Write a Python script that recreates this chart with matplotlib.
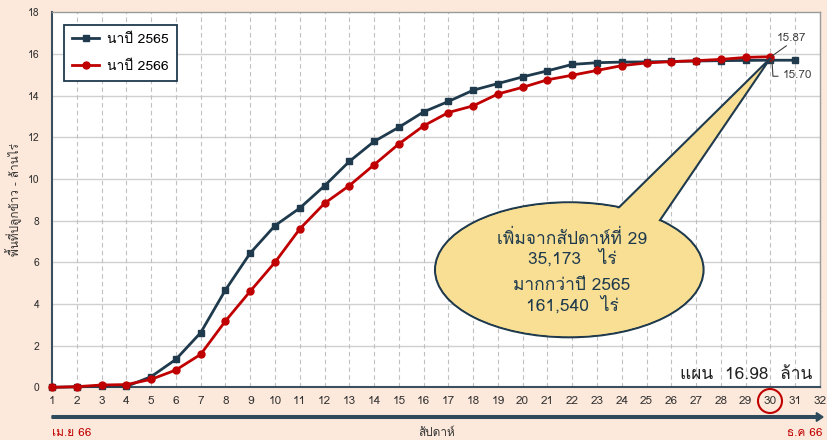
import matplotlib
matplotlib.use('Agg')
import matplotlib.pyplot as plt
from matplotlib import font_manager as fm
from matplotlib.ft2font import FT2Font
from matplotlib.patches import Ellipse, Polygon, Circle, FancyArrow

plt.rcParams['font.family'] = ['Loma', 'DejaVu Sans']

# weekly cumulative planted area (million rai)
weeks_65 = list(range(1, 32))
area_65 = [0.0, 0.02, 0.06, 0.04, 0.51, 1.34, 2.62, 4.67, 6.44, 7.76, 8.60,
           9.67, 10.84, 11.80, 12.48, 13.22, 13.72, 14.26, 14.58, 14.90, 15.19,
           15.50, 15.58, 15.61, 15.62, 15.64, 15.66, 15.68, 15.69, 15.70, 15.70]
weeks_66 = list(range(1, 31))
area_66 = [0.0, 0.03, 0.11, 0.13, 0.38, 0.83, 1.58, 3.18, 4.61, 6.00, 7.60,
           8.83, 9.68, 10.68, 11.68, 12.55, 13.19, 13.51, 14.08, 14.40, 14.76,
           14.98, 15.21, 15.44, 15.57, 15.63, 15.68, 15.74, 15.835, 15.87]

label_65 = 'นาปี 2565'
label_66 = 'นาปี 2566'
callout_lines = ['เพิ่มจากสัปดาห์ที่ 29', '35,173   ไร่', 'มากกว่าปี 2565', '161,540  ไร่']

navy = '#1F3A4D'
red = '#C00000'

# matplotlib does no Thai shaping: a tone mark with no upper vowel sits too high,
# so swap in the font's low-position glyphs when it has them
upper_vowels = set('\u0e31\u0e34\u0e35\u0e36\u0e37\u0e47')
low_marks = {'\u0e48': '\uf70a', '\u0e49': '\uf70b', '\u0e4a': '\uf70c', '\u0e4b': '\uf70d', '\u0e4c': '\uf70e'}
try:
    cmap = FT2Font(fm.findfont('Loma', fallback_to_default=False)).get_charmap()
except Exception:
    cmap = {}
has_pua = all(ord(v) in cmap for v in low_marks.values())


def th(s):
    if not has_pua:
        return s
    out = []
    for i, c in enumerate(s):
        if c in low_marks and (i == 0 or s[i - 1] not in upper_vowels):
            out.append(low_marks[c])
        else:
            out.append(c)
    return ''.join(out)


fig = plt.figure(figsize=(8.28, 4.4), dpi=100, facecolor='#FCE9DB')
ax = fig.add_axes([52 / 828, 52.7 / 440, 768 / 828, 375 / 440])
ax.set_facecolor('white')
ax.set_xlim(1, 32)
ax.set_ylim(0, 18)
ax.set_xticks(range(1, 33))
ax.set_yticks(range(0, 19, 2))
ax.tick_params(length=0, colors='#333333')
ax.tick_params(axis='x', labelsize=8.5, pad=6)
ax.tick_params(axis='y', labelsize=7.5, pad=9)

for y in range(2, 18, 2):
    ax.axhline(y, color='#D0D0D0', lw=1, zorder=0)
for x in range(2, 32):
    ax.axvline(x, color='#C0C0C0', lw=0.8, ls=(0, (4, 3)), zorder=0)

for s in ['top', 'right']:
    ax.spines[s].set_color('#9A9A9A')
    ax.spines[s].set_linewidth(1)
for s in ['left', 'bottom']:
    ax.spines[s].set_color('#3A4F5F')
    ax.spines[s].set_linewidth(1.5)

ax.plot(weeks_65, area_65, color=navy, lw=2, marker='s', ms=4.5, label=th(label_65), zorder=4, clip_on=False)
ax.plot(weeks_66, area_66, color=red, lw=2, marker='o', ms=5, label=th(label_66), zorder=5, clip_on=False)

leg = ax.legend(loc='upper left', bbox_to_anchor=(64 / 828, 1 - 25 / 440), bbox_transform=fig.transFigure,
                borderaxespad=0, fancybox=False, edgecolor=navy, framealpha=1, fontsize=10,
                handlelength=1.9, handletextpad=0.6, borderpad=0.6, labelspacing=1.0)
leg.get_frame().set_linewidth(1.3)

ax.set_ylabel(th('พื้นที่ปลูกข้าว - ล้านไร่'), fontsize=8.5, color='#333333', labelpad=4)

# callout bubble
ell_edge = Ellipse((21.88, 5.64), 10.84, 6.48, facecolor='#F8DF94', edgecolor=navy, lw=1.5, zorder=6)
wedge = Polygon([(23.0, 7.6), (30.0, 15.8), (25.3, 7.6)], closed=True,
                facecolor='#F8DF94', edgecolor=navy, lw=1.5, zorder=7)
ell_fill = Ellipse((21.88, 5.64), 10.84 - 0.12, 6.48 - 0.12, facecolor='#F8DF94', edgecolor='none', zorder=8)
for p in (ell_edge, wedge, ell_fill):
    ax.add_patch(p)
for txt, y in zip(callout_lines, [7.1, 6.2, 4.85, 3.95]):
    ax.text(21.99, y, th(txt), ha='center', va='center', fontsize=12.5, color=navy, zorder=9)

# value labels at week 30
ax.plot([30.06, 30.64], [15.9, 16.39], color='#404040', lw=0.8, zorder=6)
ax.text(30.84, 16.75, '15.87', ha='center', va='center', fontsize=8.5, color='#404040')
ax.plot([30.06, 30.1, 30.3], [15.74, 14.93, 14.93], color='#404040', lw=0.8, zorder=6)
ax.text(31.08, 14.99, '15.70', ha='center', va='center', fontsize=8.5, color='#404040')

ax.text(31.7, 0.6, th('แผน  16.98  ล้าน'), ha='right', va='center', fontsize=12.5, color='#222222')

# time arrow and bottom labels
fig.patches.append(FancyArrow(52 / 828, 1 - 417 / 440, 771 / 828, 0, width=0.006,
                              head_width=0.02, head_length=0.008, length_includes_head=True,
                              color='#2E4A5C', transform=fig.transFigure))
fig.text(52 / 828, 1 - 433 / 440, th('เม.ย 66'), color=red, fontsize=8.5, ha='left', va='center')
fig.text(823 / 828, 1 - 433 / 440, th('ธ.ค 66'), color=red, fontsize=8.5, ha='right', va='center')
fig.text(437 / 828, 1 - 433 / 440, th('สัปดาห์'), color='#333333', fontsize=8.5, ha='center', va='center')
fig.patches.append(Circle((770, 440 - 401), 12, transform=None, fill=False, edgecolor=red, lw=1.5))

fig.savefig('out.png', dpi=100, facecolor=fig.get_facecolor())
